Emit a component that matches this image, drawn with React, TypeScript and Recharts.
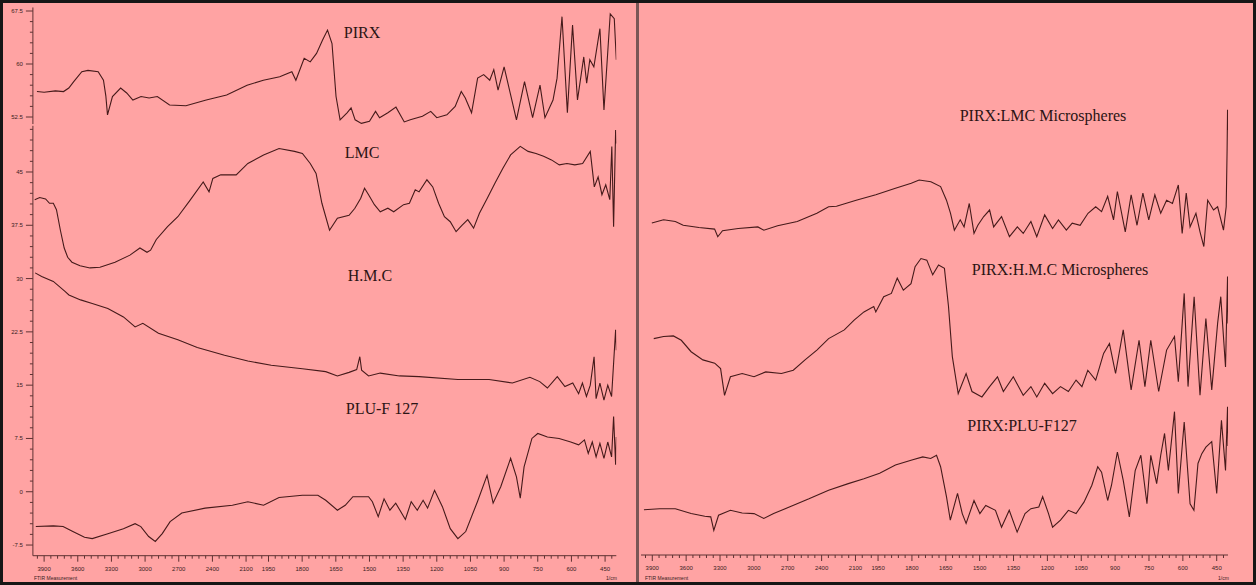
import { LineChart, Line, XAxis, YAxis } from "recharts";

const BG = "#ffa3a3";
const INK = "#451a1a";
const AXIS = "#5e3232";

// x tick labels in 1/cm; 4000-2000 is drawn at half the scale of 2000-400
const WN_LABELS = [3900, 3600, 3300, 3000, 2700, 2400, 2100, 1950, 1800, 1650, 1500, 1350, 1200, 1050, 900, 750, 600, 450];

// [wavenumber, %T]
const pirx = [
  [3964, 56.1], [3900, 56.0], [3800, 56.2], [3727, 56.1], [3680, 56.6], [3636, 57.5], [3564, 58.9], [3509, 59.1],
  [3418, 58.9], [3371, 57.7], [3350, 55.5], [3335, 52.8], [3291, 55.4], [3218, 56.6], [3164, 55.9], [3109, 54.9],
  [3036, 55.4], [2964, 55.2], [2891, 55.4], [2782, 54.2], [2636, 54.1], [2455, 54.9], [2273, 55.6], [2091, 57.0],
  [1973, 57.7], [1900, 58.2], [1846, 58.9], [1828, 57.7], [1791, 60.8], [1764, 60.3], [1736, 61.5], [1709, 63.4],
  [1687, 64.8], [1667, 62.9], [1649, 55.4], [1631, 52.1], [1600, 53.1], [1582, 53.8], [1564, 52.1], [1536, 51.6],
  [1500, 51.9], [1473, 53.3], [1455, 52.4], [1418, 53.1], [1382, 53.9], [1345, 51.8], [1318, 52.1], [1264, 52.6],
  [1227, 53.3], [1200, 52.4], [1155, 52.8], [1118, 54.0], [1091, 56.1], [1073, 55.2], [1045, 53.1], [1018, 58.0],
  [991, 58.5], [964, 57.7], [946, 59.2], [927, 56.3], [900, 59.6], [873, 55.9], [845, 52.1], [809, 57.5],
  [773, 52.4], [740, 57.0], [718, 52.4], [682, 54.9], [664, 58.0], [642, 66.7], [618, 53.1], [595, 65.5],
  [573, 54.9], [545, 61.0], [532, 57.3], [518, 60.6], [500, 59.6], [473, 65.0], [455, 53.5], [427, 67.1],
  [409, 66.4], [400, 60.6],
];

const lmc = [
  [3984, 41.1], [3939, 41.4], [3887, 41.2], [3852, 40.6], [3818, 40.6], [3790, 39.7], [3755, 36.8], [3721, 34.3],
  [3690, 33.0], [3652, 32.3], [3580, 31.8], [3491, 31.5], [3402, 31.6], [3268, 32.3], [3135, 33.3], [3046, 34.3],
  [2983, 33.7], [2951, 34.0], [2900, 35.5], [2800, 37.3], [2708, 38.7], [2600, 41.0], [2482, 43.6], [2430, 42.2],
  [2396, 44.1], [2326, 44.6], [2188, 44.6], [2084, 46.2], [1972, 47.4], [1903, 48.3], [1834, 47.9], [1799, 47.6],
  [1764, 46.2], [1738, 44.8], [1712, 40.6], [1678, 36.8], [1643, 38.5], [1591, 38.9], [1565, 39.9], [1539, 41.3],
  [1522, 42.7], [1504, 41.8], [1478, 40.4], [1452, 39.4], [1418, 39.9], [1392, 39.4], [1348, 40.4], [1322, 40.6],
  [1296, 42.5], [1279, 42.2], [1244, 43.9], [1218, 42.9], [1192, 40.6], [1166, 38.7], [1140, 38.0], [1114, 36.6],
  [1088, 37.5], [1062, 38.3], [1036, 37.1], [1010, 39.2], [975, 41.3], [941, 43.4], [906, 45.5], [871, 47.4],
  [828, 48.6], [793, 47.9], [758, 47.6], [724, 47.2], [689, 46.7], [654, 46.0], [620, 46.2], [585, 46.0],
  [550, 46.2], [516, 47.9], [498, 42.9], [481, 44.3], [464, 41.8], [447, 43.2], [429, 41.1], [420, 48.6],
  [412, 37.3], [403, 50.9], [400, 49.0],
];

const hmc = [
  [3980, 30.8], [3922, 30.3], [3818, 29.6], [3714, 28.2], [3679, 27.7], [3575, 27.0], [3471, 26.5], [3332, 25.8],
  [3193, 24.6], [3089, 23.2], [3020, 23.7], [2881, 22.3], [2708, 21.4], [2535, 20.3], [2292, 19.2], [2084, 18.4],
  [1938, 17.8], [1799, 17.3], [1695, 16.9], [1643, 16.3], [1591, 16.8], [1557, 17.2], [1543, 19.0], [1535, 17.1],
  [1504, 16.3], [1452, 16.7], [1366, 16.3], [1279, 16.2], [1106, 15.8], [967, 15.8], [863, 15.3], [785, 16.1],
  [741, 15.5], [707, 14.6], [663, 16.2], [629, 14.8], [594, 15.3], [568, 13.8], [551, 15.3], [533, 13.4],
  [516, 15.0], [499, 19.0], [490, 13.1], [473, 15.3], [455, 12.9], [438, 15.0], [421, 13.4], [403, 22.8],
  [400, 19.9],
];

const pluF127 = [
  [3974, -4.9], [3818, -4.8], [3731, -4.9], [3644, -5.6], [3540, -6.4], [3471, -6.6], [3332, -5.9], [3193, -5.2],
  [3089, -4.5], [3038, -4.9], [2968, -6.3], [2909, -7.0], [2847, -5.9], [2777, -4.2], [2673, -3.0], [2465, -2.3],
  [2222, -1.9], [2084, -1.4], [1972, -1.9], [1903, -0.8], [1799, -0.5], [1730, -0.5], [1695, -1.2], [1643, -2.6],
  [1608, -1.9], [1574, -0.7], [1504, -0.7], [1487, -1.4], [1461, -3.5], [1435, -1.0], [1409, -2.6], [1383, -1.6],
  [1340, -3.9], [1314, -1.4], [1287, -2.6], [1261, -1.2], [1241, -2.3], [1210, 0.2], [1175, -2.1], [1140, -5.2],
  [1106, -6.6], [1071, -5.6], [1019, -1.4], [976, 2.3], [949, -1.6], [915, 0.7], [871, 4.7], [845, 2.1],
  [828, -0.9], [811, 3.5], [776, 7.5], [750, 8.2], [707, 7.7], [655, 7.5], [603, 7.0], [568, 6.6],
  [542, 7.3], [525, 5.4], [507, 7.0], [490, 4.9], [473, 6.8], [455, 4.7], [438, 7.0], [421, 4.9],
  [412, 10.6], [403, 3.8], [400, 7.7],
];

const pirxLmc = [
  [3904, 60.9], [3800, 61.5], [3696, 61.2], [3626, 60.5], [3487, 60.1], [3348, 59.8], [3320, 58.4], [3278, 59.5],
  [3139, 59.9], [2965, 60.2], [2912, 59.6], [2790, 60.4], [2616, 61.2], [2442, 62.7], [2338, 63.9], [2268, 64.0],
  [2094, 65.1], [1960, 66.1], [1873, 67.3], [1803, 68.2], [1768, 68.8], [1716, 68.5], [1673, 67.6], [1647, 65.1],
  [1629, 62.7], [1612, 59.6], [1586, 61.5], [1569, 60.2], [1546, 64.5], [1525, 59.0], [1508, 60.5], [1482, 62.1],
  [1456, 63.3], [1438, 60.2], [1403, 62.1], [1368, 58.4], [1333, 60.2], [1307, 59.0], [1273, 61.2], [1247, 58.4],
  [1212, 62.4], [1177, 59.9], [1151, 61.5], [1116, 59.6], [1090, 60.9], [1055, 60.5], [1020, 62.7], [986, 63.9],
  [960, 63.0], [933, 65.8], [907, 61.5], [890, 66.7], [855, 59.3], [829, 66.1], [803, 60.5], [777, 66.4],
  [751, 61.5], [724, 66.1], [698, 62.7], [672, 65.1], [646, 64.5], [620, 67.9], [603, 59.0], [585, 66.4],
  [568, 60.2], [542, 62.7], [524, 59.3], [507, 56.6], [490, 65.1], [464, 63.3], [446, 63.9], [420, 59.6],
  [408, 63.9], [404, 74.3], [402, 81.7], [400, 78.0],
];

const pirxHmc = [
  [3887, 39.7], [3800, 40.1], [3713, 40.2], [3643, 39.4], [3556, 37.3], [3452, 35.8], [3347, 35.2], [3295, 34.2],
  [3260, 29.3], [3208, 32.7], [3104, 33.3], [2999, 32.7], [2895, 33.6], [2756, 33.3], [2651, 33.9], [2547, 35.8],
  [2442, 37.6], [2338, 39.7], [2199, 41.3], [2112, 43.1], [2025, 44.6], [1969, 45.6], [1960, 44.6], [1925, 47.4],
  [1891, 48.0], [1865, 50.8], [1838, 48.6], [1804, 49.8], [1786, 52.9], [1760, 54.4], [1734, 54.1], [1708, 51.4],
  [1682, 53.2], [1656, 52.6], [1638, 45.6], [1621, 36.4], [1595, 29.6], [1560, 33.3], [1534, 30.0], [1490, 29.0],
  [1456, 30.9], [1421, 32.7], [1395, 30.0], [1351, 32.7], [1307, 29.3], [1273, 30.9], [1247, 29.0], [1212, 31.5],
  [1177, 29.6], [1142, 30.9], [1107, 30.0], [1073, 32.1], [1047, 30.9], [1021, 33.9], [986, 32.1], [951, 37.0],
  [925, 38.8], [898, 33.3], [864, 41.3], [829, 30.3], [794, 39.4], [768, 30.9], [742, 39.4], [707, 30.0],
  [672, 37.6], [637, 40.1], [620, 31.8], [594, 48.0], [577, 30.9], [550, 47.4], [524, 29.3], [498, 43.4],
  [472, 30.3], [446, 42.5], [432, 47.4], [411, 34.5], [402, 51.1], [400, 42.5],
];

const pirxPlu = [
  [3974, 8.3], [3835, 8.5], [3696, 8.5], [3556, 7.6], [3435, 7.1], [3382, 7.0], [3355, 4.5], [3313, 7.3],
  [3208, 8.2], [3104, 7.7], [2999, 7.6], [2912, 6.7], [2825, 7.6], [2686, 8.8], [2512, 10.3], [2338, 11.9],
  [2164, 13.1], [2025, 14.0], [1943, 15.0], [1873, 16.5], [1804, 17.4], [1752, 18.0], [1717, 17.7], [1691, 18.3],
  [1673, 16.2], [1647, 10.7], [1630, 6.4], [1598, 11.3], [1577, 7.6], [1560, 5.8], [1525, 10.0], [1499, 7.6],
  [1473, 9.1], [1430, 8.2], [1403, 5.1], [1369, 8.2], [1334, 4.2], [1299, 7.6], [1273, 8.5], [1238, 8.8],
  [1221, 10.7], [1195, 7.6], [1177, 5.1], [1142, 6.4], [1107, 8.2], [1073, 7.6], [1038, 9.7], [1003, 12.8],
  [977, 16.2], [960, 15.2], [933, 10.0], [916, 12.8], [890, 18.9], [864, 13.7], [837, 7.0], [811, 15.5],
  [786, 18.3], [759, 9.4], [742, 18.3], [716, 13.1], [698, 18.3], [681, 22.3], [664, 15.5], [637, 26.3],
  [620, 11.3], [594, 24.4], [568, 9.4], [551, 8.2], [533, 16.8], [516, 18.6], [498, 19.8], [472, 20.8],
  [450, 11.3], [429, 24.7], [411, 15.5], [402, 27.2], [400, 20.0],
];

const toU = (wn: number) => (wn >= 2000 ? 4000 - wn : 2000 + 2 * (2000 - wn));
const build = (pts: number[][]) => pts.map(([wn, t]) => ({ wn, u: toU(wn), t }));

const MAJOR_X = new Map(WN_LABELS.map((w) => [toU(w), String(w)]));
const X_TICKS: number[] = [];
for (let w = 3960; w > 2000; w -= 60) X_TICKS.push(toU(w));
for (let w = 1980; w >= 420; w -= 30) X_TICKS.push(toU(w));

const ticksBetween = (lo: number, hi: number) => {
  const out: number[] = [];
  for (let i = Math.round(lo / 1.5); i <= Math.round(hi / 1.5); i++) out.push(i * 1.5);
  return out;
};
const TOP_TICKS = ticksBetween(52.5, 67.5);
const MAIN_TICKS = ticksBetween(-7.5, 51);

const XTick = (props: any) => {
  const { x, y, payload } = props;
  const label = MAJOR_X.get(payload.value);
  return (
    <g>
      <line x1={x} x2={x} y1={y} y2={y + (label ? 6 : 3)} stroke={AXIS} strokeWidth={1} />
      {label && (
        <text x={x} y={y + 15} textAnchor="middle" fontSize={6} fill="#3a1d1d" fontFamily="Liberation Sans, Arial">
          {label}
        </text>
      )}
    </g>
  );
};

const YTick = (props: any) => {
  const { x, y, payload } = props;
  const v = payload.value;
  const major = Math.abs(v / 7.5 - Math.round(v / 7.5)) < 1e-6;
  return (
    <g>
      <line x1={x} x2={x - (major ? 7 : 3)} y1={y} y2={y} stroke={AXIS} strokeWidth={1} />
      {major && (
        <text x={x - 10} y={y + 2} textAnchor="end" fontSize={6} fill="#3a1d1d" fontFamily="Liberation Sans, Arial">
          {String(v)}
        </text>
      )}
    </g>
  );
};

const titleStyle = (left: number, top: number): React.CSSProperties => ({
  position: "absolute",
  left,
  top,
  transform: "translate(-50%, -50%)",
  fontFamily: "Liberation Serif, Times New Roman, serif",
  fontSize: 16,
  color: "#2b1414",
  whiteSpace: "nowrap",
});

const tiny: React.CSSProperties = {
  position: "absolute",
  fontFamily: "Liberation Sans, Arial",
  fontSize: 5,
  color: "#3a1d1d",
  whiteSpace: "nowrap",
};

const seriesLine = (data: number[][], key: string) => (
  <Line
    key={key}
    data={build(data)}
    dataKey="t"
    type="linear"
    stroke={INK}
    strokeWidth={1.1}
    dot={false}
    activeDot={false}
    isAnimationActive={false}
  />
);

export default function App() {
  return (
    <div style={{ position: "absolute", left: 0, top: 0, width: 1256, height: 585, background: BG, overflow: "hidden" }}>
      {/* left panel, upper trace */}
      <div style={{ position: "absolute", left: 0, top: 0 }}>
        <LineChart width={636} height={125} margin={{ top: 7.47, right: 19.7, left: 0, bottom: 0.93 }}>
          <XAxis type="number" dataKey="u" domain={[0, 5200]} hide allowDataOverflow />
          <YAxis
            type="number"
            domain={[51.5, 68]}
            ticks={TOP_TICKS}
            interval={0}
            width={32.9}
            tick={YTick}
            tickLine={false}
            tickSize={0}
            tickMargin={0}
            axisLine={{ stroke: AXIS }}
            allowDataOverflow
          />
          {seriesLine(pirx, "pirx")}
        </LineChart>
      </div>

      {/* left panel, LMC / H.M.C / PLU-F 127 */}
      <div style={{ position: "absolute", left: 0, top: 0 }}>
        <LineChart width={636} height={585} margin={{ top: 125.8, right: 19.7, left: 0, bottom: 0 }}>
          <XAxis
            type="number"
            dataKey="u"
            domain={[0, 5200]}
            ticks={X_TICKS}
            interval={0}
            height={29.3}
            tick={XTick}
            tickLine={false}
            tickSize={0}
            tickMargin={0}
            axisLine={{ stroke: AXIS }}
            allowDataOverflow
          />
          <YAxis
            type="number"
            domain={[-9, 51.5]}
            ticks={MAIN_TICKS}
            interval={0}
            width={32.9}
            tick={YTick}
            tickLine={false}
            tickSize={0}
            tickMargin={0}
            axisLine={{ stroke: AXIS }}
            allowDataOverflow
          />
          {seriesLine(lmc, "lmc")}
          {seriesLine(hmc, "hmc")}
          {seriesLine(pluF127, "plu")}
        </LineChart>
      </div>

      {/* right panel, microspheres */}
      <div style={{ position: "absolute", left: 636, top: 0 }}>
        <LineChart width={620} height={585} margin={{ top: 10, right: 28, left: 5, bottom: 0 }}>
          <XAxis
            type="number"
            dataKey="u"
            domain={[0, 5200]}
            ticks={X_TICKS}
            interval={0}
            height={30}
            tick={XTick}
            tickLine={false}
            tickSize={0}
            tickMargin={0}
            axisLine={{ stroke: AXIS }}
            allowDataOverflow
          />
          <YAxis type="number" domain={[0, 100]} hide allowDataOverflow />
          {seriesLine(pirxLmc, "plmc")}
          {seriesLine(pirxHmc, "phmc")}
          {seriesLine(pirxPlu, "pplu")}
        </LineChart>
      </div>

      <div style={titleStyle(362, 33)}>PIRX</div>
      <div style={titleStyle(362, 153)}>LMC</div>
      <div style={titleStyle(370, 276)}>H.M.C</div>
      <div style={titleStyle(382, 409)}>PLU-F 127</div>
      <div style={titleStyle(1043, 116)}>PIRX:LMC Microspheres</div>
      <div style={titleStyle(1060, 270)}>PIRX:H.M.C Microspheres</div>
      <div style={titleStyle(1022, 426)}>PIRX:PLU-F127</div>

      <div style={{ ...tiny, left: 34, top: 575 }}>FTIR Measurement</div>
      <div style={{ ...tiny, left: 606, top: 575 }}>1/cm</div>
      <div style={{ ...tiny, left: 645, top: 575 }}>FTIR Measurement</div>
      <div style={{ ...tiny, left: 1218, top: 575 }}>1/cm</div>

      <div style={{ position: "absolute", left: 636, top: 0, width: 3, height: 585, background: "#7a5656" }} />
      <div style={{ position: "absolute", left: 0, top: 0, width: 1256, height: 585, boxSizing: "border-box", border: "3px solid #161616" }} />
    </div>
  );
}
